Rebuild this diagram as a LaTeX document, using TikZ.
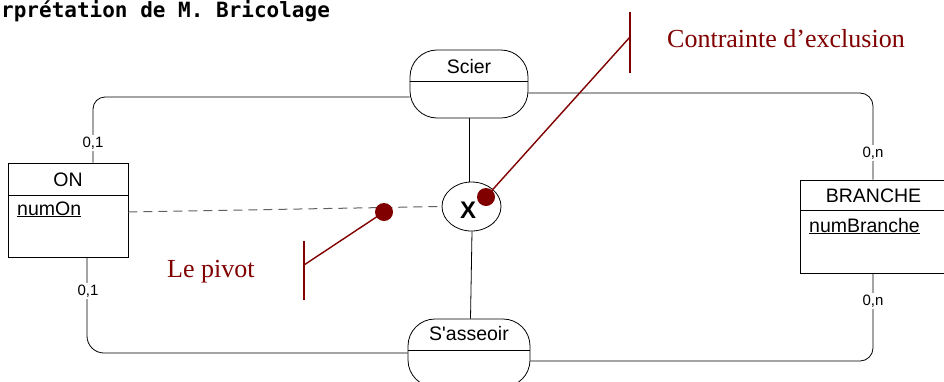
\documentclass[tikz,border=0pt]{standalone}
\usepackage{fontspec}
\setmainfont{Liberation Sans}[Ligatures=TeXOff]
\newfontfamily\serifred{Liberation Serif}
\newfontfamily\monob{DejaVu Sans Mono}
\usetikzlibrary{shapes.geometric}
\definecolor{annot}{HTML}{800000}
\definecolor{dashgray}{HTML}{606060}
\tikzset{
  x=1pt, y=-1pt,
  conn/.style={draw=black, line width=0.8pt},
  entbox/.style={draw=black, line width=0.8pt, rectangle, inner sep=0pt},
  relbox/.style={draw=black, line width=0.8pt, rectangle, rounded corners=27pt, minimum width=118pt, minimum height=68pt, inner sep=0pt},
  sanslbl/.style={inner sep=0pt, font=\fontsize{19.5}{22}\selectfont},
  card/.style={fill=white, inner sep=1.5pt, font=\fontsize{15}{17}\selectfont},
  redline/.style={draw=annot, line width=1.4pt},
  reddot/.style={circle, fill=annot, minimum size=18pt, inner sep=0pt},
  redtxt/.style={text=annot, inner sep=0pt, font=\serifred\fontsize{26}{30}\selectfont}
}
\begin{document}
\begin{tikzpicture}
\useasboundingbox (0,0) rectangle (944,381);
\clip (0,0) rectangle (944,381);
% title
\node[anchor=base west, inner sep=0pt, font=\monob\bfseries\fontsize{21}{24}\selectfont] (title) at (1,17.5) {rprétation de M. Bricolage};
% relation shapes
\node[relbox] (scier) at (469,84) {};
\draw[conn] ([yshift=-32pt]scier.north west) -- ([yshift=-32pt]scier.north east);
\node[sanslbl] (scierlbl) at (469,67) {Scier};
\node[relbox, minimum width=122pt] (sas) at (469,353) {};
\draw[conn] ([yshift=-32pt]sas.north west) -- ([yshift=-32pt]sas.north east);
\node[sanslbl] (saslbl) at (469,334) {S'asseoir};
% entities
\node[entbox, minimum width=120pt, minimum height=94pt] (on) at (68,210) {};
\draw[conn] ([yshift=-33pt]on.north west) -- ([yshift=-33pt]on.north east);
\node[sanslbl] (onlbl) at (68,180) {ON};
\node[sanslbl, anchor=base west] (onkey) at (17,215) {\underline{numOn}};
\node[entbox, minimum width=146pt, minimum height=93pt] (branche) at (873,226.5) {};
\draw[conn] ([yshift=-31pt]branche.north west) -- ([yshift=-31pt]branche.north east);
\node[sanslbl] (brlbl) at (873.5,196) {BRANCHE};
\node[sanslbl, anchor=base west] (brkey) at (809,232) {\underline{numBranche}};
% exclusion constraint
\node[ellipse, draw=black, line width=0.8pt, minimum width=59pt, minimum height=49pt, inner sep=0pt] (xe) at (471.5,206.5) {};
\node[inner sep=0pt, font=\bfseries\fontsize{24}{26}\selectfont] (xlbl) at (468,210) {X};
% connectors
\draw[conn, rounded corners=12pt] ([yshift=-13pt]scier.west) -| ([xshift=25pt]on.north);
\draw[conn, rounded corners=13pt] ([yshift=-9pt]scier.east) -| (branche.north);
\draw[conn] (scier.south) -- (scier.south |- xe.north);
\draw[conn] ([xshift=0.5pt]xe.south) -- ([xshift=1.5pt]sas.north);
\draw[conn, rounded corners=17pt] ([xshift=19pt]on.south) |- (sas.west);
\draw[conn, rounded corners=13pt] ([yshift=-8pt]sas.east) -| (branche.south);
\draw[draw=dashgray, line width=1pt, dash pattern=on 9pt off 6pt] ([yshift=-2pt]on.east) -- (xe.west);
% cardinalities
\node[card] (c1) at (93,143) {0,1};
\node[card] (c2) at (88,291) {0,1};
\node[card] (c3) at (873,153) {0,n};
\node[card] (c4) at (873,301) {0,n};
% annotations
\node[reddot] (dot1) at (384,212) {};
\node[reddot] (dot2) at (486,197) {};
\coordinate (pv) at (304,265);
\coordinate (pvtop) at (304,241);
\coordinate (pvbot) at (304,300);
\coordinate (ce) at (630,37);
\coordinate (cetop) at (630,12);
\coordinate (cebot) at (630,73);
\draw[redline] (dot1.center) -- (pv);
\draw[redline] (pvtop) -- (pvbot);
\draw[redline] (dot2.center) -- (ce);
\draw[redline] (cetop) -- (cebot);
\node[redtxt, anchor=base west] (pivot) at (167,277) {Le pivot};
\node[redtxt, anchor=base west] (excl) at (667,47) {Contrainte d’exclusion};
\end{tikzpicture}
\end{document}
